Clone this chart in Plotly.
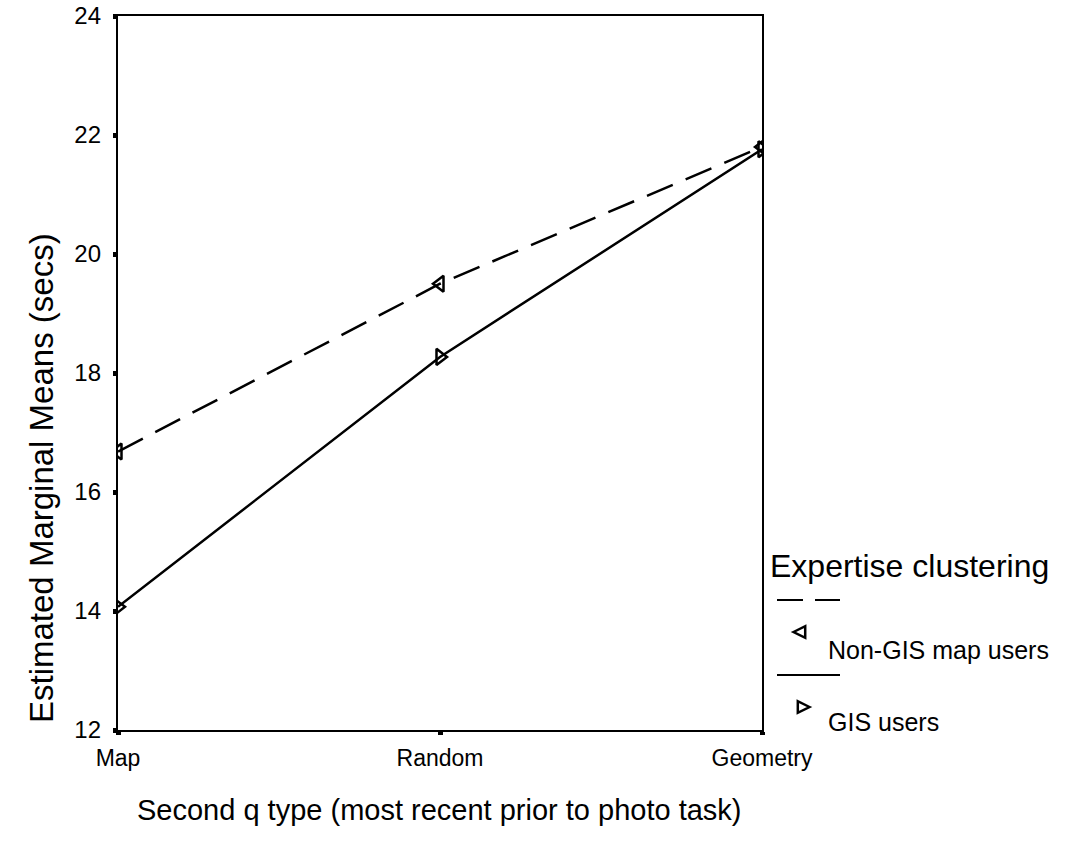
import plotly.graph_objects as go

categories = ["Map", "Random", "Geometry"]
non_gis = [16.68, 19.50, 21.80]
gis = [14.07, 18.27, 21.76]
y_ticks = [12, 14, 16, 18, 20, 22, 24]

W, H = 1066, 859
FONT = "Liberation Sans, Arial, sans-serif"
DASH = "28px,14px"

# plot box in pixels
LEFT, RIGHT, TOP, BOTTOM = 118, 762, 16, 730


def px(x):
    return x / W


def py(y):
    return 1 - y / H


def tri_path(cx, cy, r, pointing):
    """Closed triangle path in paper units, apex pointing left or right."""
    s = -1 if pointing == "left" else 1
    pts = [(cx + s * r, cy), (cx - s * r * 0.8, cy - r * 0.9), (cx - s * r * 0.8, cy + r * 0.9)]
    return "M " + " L ".join(f"{px(x):.5f},{py(y):.5f}" for x, y in pts) + " Z"


fig = go.Figure()

fig.add_trace(go.Scatter(
    x=categories, y=non_gis, mode="lines+markers", name="Non-GIS map users",
    line=dict(color="black", width=2.5, dash=DASH),
    marker=dict(symbol="triangle-left-open", size=14, color="black", line=dict(width=2.5)),
    showlegend=False,
))
fig.add_trace(go.Scatter(
    x=categories, y=gis, mode="lines+markers", name="GIS users",
    line=dict(color="black", width=2.5),
    marker=dict(symbol="triangle-right-open", size=14, color="black", line=dict(width=2.5)),
    showlegend=False,
))

# Legend keys beside the plot
legend_shapes = [
    dict(type="line", xref="paper", yref="paper", x0=px(777), x1=px(803), y0=py(600), y1=py(600),
         line=dict(color="black", width=2)),
    dict(type="line", xref="paper", yref="paper", x0=px(815), x1=px(840), y0=py(600), y1=py(600),
         line=dict(color="black", width=2)),
    dict(type="line", xref="paper", yref="paper", x0=px(777), x1=px(840), y0=py(675), y1=py(675),
         line=dict(color="black", width=2)),
    dict(type="path", xref="paper", yref="paper", path=tri_path(800, 632, 6.5, "left"),
         line=dict(color="black", width=2.5), fillcolor="white"),
    dict(type="path", xref="paper", yref="paper", path=tri_path(803, 707, 6.5, "right"),
         line=dict(color="black", width=2.5), fillcolor="white"),
]

fig.update_layout(
    width=W, height=H,
    margin=dict(l=0, r=0, t=0, b=0, autoexpand=False),
    paper_bgcolor="white", plot_bgcolor="white",
    font=dict(family=FONT, color="black"),
    xaxis=dict(
        domain=[px(LEFT), px(RIGHT)], automargin=False,
        type="category", range=[0, 2], showgrid=False, zeroline=False,
        showline=True, linecolor="black", linewidth=2.4, mirror=True,
        ticks="outside", ticklen=3, tickwidth=5, tickcolor="black",
        ticklabelstandoff=3,
        tickfont=dict(size=23, family=FONT),
    ),
    yaxis=dict(
        domain=[py(BOTTOM), py(TOP)], automargin=False,
        range=[12, 24], tickvals=y_ticks, showgrid=False, zeroline=False,
        showline=True, linecolor="black", linewidth=2.4, mirror=True,
        ticks="outside", ticklen=3, tickwidth=5, tickcolor="black",
        ticklabelstandoff=7,
        tickfont=dict(size=24, family=FONT),
    ),
    shapes=legend_shapes,
    annotations=[
        dict(text="Estimated Marginal Means (secs)", x=px(42), y=py(478),
             xref="paper", yref="paper", showarrow=False, textangle=-90,
             font=dict(size=33, family=FONT), xanchor="center", yanchor="middle"),
        dict(text="Second q type (most recent prior to photo task)", x=px(439), y=py(810),
             xref="paper", yref="paper", showarrow=False,
             font=dict(size=29, family=FONT), xanchor="center", yanchor="middle"),
        dict(text="Expertise clustering", x=px(768), y=py(566),
             xref="paper", yref="paper", showarrow=False,
             font=dict(size=32, family=FONT), xanchor="left", yanchor="middle"),
        dict(text="Non-GIS map users", x=px(826), y=py(650),
             xref="paper", yref="paper", showarrow=False,
             font=dict(size=25, family=FONT), xanchor="left", yanchor="middle"),
        dict(text="GIS users", x=px(826), y=py(722),
             xref="paper", yref="paper", showarrow=False,
             font=dict(size=25, family=FONT), xanchor="left", yanchor="middle"),
    ],
)

fig.write_html("out.html")
